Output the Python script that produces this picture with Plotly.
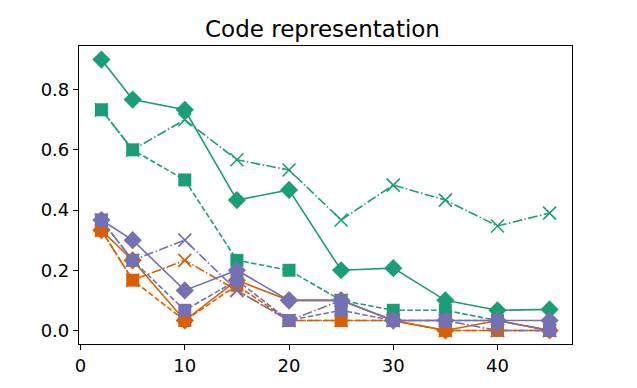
import plotly.graph_objects as go

x_vals = [2, 5, 10, 15, 20, 25, 30, 35, 40, 45]

green_diamond = [0.9, 0.767, 0.733, 0.433, 0.467, 0.2, 0.207, 0.1, 0.067, 0.07]
green_square = [0.733, 0.6, 0.5, 0.233, 0.2, 0.1, 0.067, 0.067, 0.033, 0.0]
green_x = [0.733, 0.6, 0.7, 0.567, 0.533, 0.367, 0.483, 0.433, 0.347, 0.39]

orange_diamond = [0.333, 0.233, 0.033, 0.167, 0.1, 0.1, 0.033, 0.0, 0.033, 0.0]
orange_square = [0.333, 0.167, 0.033, 0.15, 0.033, 0.033, 0.033, 0.0, 0.0, 0.0]
orange_x = [0.333, 0.167, 0.233, 0.133, 0.033, 0.033, 0.033, 0.0, 0.0, 0.0]

purple_diamond = [0.367, 0.3, 0.133, 0.2, 0.1, 0.1, 0.033, 0.033, 0.033, 0.033]
purple_square = [0.367, 0.233, 0.067, 0.167, 0.033, 0.067, 0.033, 0.033, 0.033, 0.0]
purple_x = [0.367, 0.233, 0.3, 0.133, 0.033, 0.1, 0.033, 0.033, 0.0, 0.0]

GREEN = "#1b9e77"
ORANGE = "#d95f02"
PURPLE = "#7570b3"

DASHED = "5.5px,2.4px"
DASHDOT = "9.6px,2.4px,1.5px,2.4px"

series = [
    (green_diamond, GREEN, "solid", "diamond"),
    (green_square, GREEN, DASHED, "square"),
    (green_x, GREEN, DASHDOT, "x-thin"),
    (orange_diamond, ORANGE, "solid", "diamond"),
    (orange_square, ORANGE, DASHED, "square"),
    (orange_x, ORANGE, DASHDOT, "x-thin"),
    (purple_diamond, PURPLE, "solid", "diamond"),
    (purple_square, PURPLE, DASHED, "square"),
    (purple_x, PURPLE, DASHDOT, "x-thin"),
]

fig = go.Figure()
for ys, col, dash, sym in series:
    if sym == "x-thin":
        marker = dict(symbol=sym, size=13, color=col, line=dict(color=col, width=1.6))
    elif sym == "square":
        marker = dict(symbol=sym, size=13, color=col, line=dict(width=0))
    else:
        marker = dict(symbol=sym, size=14, color=col, line=dict(width=0))
    fig.add_trace(go.Scatter(
        x=x_vals, y=ys, mode="lines+markers",
        line=dict(color=col, width=1.6, dash=dash),
        marker=marker, showlegend=False,
    ))

fig.update_layout(
    width=629, height=380,
    margin=dict(l=71, r=65, t=38, b=42),
    paper_bgcolor="white", plot_bgcolor="white",
    font=dict(family="DejaVu Sans", color="black", size=18),
    title=dict(text="Code representation", x=0.5, xanchor="center",
               y=1 - 21 / 380, yanchor="middle", font=dict(size=23)),
)
fig.update_xaxes(
    range=[-0.15, 47.15], tickvals=[0, 10, 20, 30, 40],
    showline=True, linecolor="black", linewidth=1.2, mirror=True,
    ticks="outside", ticklen=5, tickcolor="black", tickwidth=1.2,
    showgrid=False, zeroline=False,
)
fig.update_yaxes(
    range=[-0.045, 0.945], tickvals=[0, 0.2, 0.4, 0.6, 0.8], tickformat=".1f",
    showline=True, linecolor="black", linewidth=1.2, mirror=True,
    ticks="outside", ticklen=5, tickcolor="black", tickwidth=1.2,
    showgrid=False, zeroline=False,
)

fig.write_html("out.html")
